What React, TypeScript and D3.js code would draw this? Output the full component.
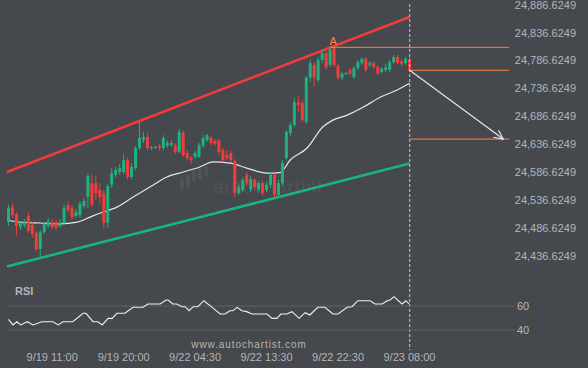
import React from "react";
import * as d3 from "d3";

// ---------- DATA ----------
// candles: [open, high, low, close]
const candles: number[][] = [
  [24496, 24527, 24489, 24521], [24523, 24529, 24504, 24509], [24511, 24514, 24471, 24489], [24487, 24498, 24482, 24495],
  [24491, 24502, 24486, 24496], [24507, 24514, 24477, 24480], [24491, 24496, 24468, 24475], [24477, 24480, 24444, 24448],
  [24448, 24482, 24432, 24478], [24478, 24496, 24475, 24493], [24489, 24504, 24486, 24498], [24496, 24502, 24484, 24487],
  [24496, 24500, 24482, 24486], [24489, 24502, 24486, 24496], [24495, 24529, 24491, 24521], [24527, 24534, 24512, 24518],
  [24521, 24527, 24500, 24505], [24507, 24520, 24503, 24514], [24509, 24534, 24503, 24529], [24525, 24539, 24520, 24534],
  [24541, 24584, 24521, 24579], [24566, 24581, 24523, 24527], [24566, 24579, 24536, 24548], [24554, 24566, 24527, 24541],
  [24548, 24554, 24486, 24495], [24495, 24564, 24486, 24561], [24563, 24593, 24557, 24584], [24581, 24595, 24577, 24590],
  [24586, 24600, 24581, 24593], [24586, 24618, 24582, 24607], [24607, 24613, 24572, 24577], [24577, 24602, 24573, 24595],
  [24593, 24633, 24590, 24629], [24629, 24676, 24625, 24647], [24643, 24658, 24638, 24649], [24649, 24656, 24624, 24629],
  [24629, 24633, 24625, 24631], [24630, 24633, 24627, 24631], [24633, 24636, 24624, 24629], [24629, 24652, 24625, 24647],
  [24633, 24643, 24629, 24638], [24634, 24643, 24631, 24638], [24634, 24638, 24618, 24622], [24622, 24663, 24620, 24658],
  [24656, 24661, 24613, 24616], [24620, 24625, 24607, 24611], [24611, 24615, 24600, 24607], [24613, 24624, 24609, 24620],
  [24613, 24638, 24611, 24634], [24633, 24652, 24629, 24647], [24643, 24654, 24640, 24652], [24647, 24651, 24634, 24638],
  [24642, 24645, 24633, 24636], [24642, 24645, 24616, 24622], [24625, 24629, 24604, 24607], [24616, 24625, 24607, 24611],
  [24620, 24625, 24604, 24607], [24606, 24609, 24541, 24548], [24548, 24564, 24545, 24559], [24554, 24577, 24550, 24572],
  [24581, 24586, 24561, 24566], [24554, 24579, 24550, 24573], [24572, 24575, 24554, 24559], [24554, 24570, 24550, 24566],
  [24566, 24570, 24543, 24548], [24554, 24568, 24550, 24563], [24563, 24586, 24557, 24581], [24581, 24584, 24541, 24545],
  [24545, 24572, 24539, 24566], [24566, 24607, 24561, 24602], [24611, 24661, 24607, 24658], [24656, 24675, 24650, 24670],
  [24670, 24719, 24667, 24711], [24711, 24722, 24694, 24706], [24710, 24715, 24676, 24679], [24676, 24758, 24672, 24755],
  [24755, 24787, 24747, 24781], [24778, 24783, 24740, 24755], [24751, 24792, 24747, 24787], [24787, 24805, 24781, 24799],
  [24799, 24805, 24769, 24774], [24778, 24810, 24774, 24805], [24809, 24810, 24774, 24778], [24776, 24780, 24751, 24755],
  [24755, 24765, 24751, 24762], [24762, 24765, 24760, 24763], [24769, 24772, 24758, 24762], [24756, 24776, 24753, 24772],
  [24772, 24787, 24769, 24783], [24781, 24792, 24778, 24789], [24789, 24792, 24765, 24769], [24778, 24785, 24774, 24781],
  [24781, 24785, 24771, 24774], [24774, 24778, 24760, 24763], [24765, 24774, 24762, 24771], [24769, 24780, 24765, 24774],
  [24769, 24787, 24765, 24783], [24783, 24796, 24780, 24792], [24792, 24796, 24778, 24781], [24785, 24788, 24776, 24780],
  [24781, 24792, 24778, 24789], [24787, 24792, 24765, 24768],
];

const maIdx = [0, 2.9, 7.9, 13, 17.3, 20.5, 23, 27.3, 31.4, 35.6, 39.9, 44, 48.2, 51.5, 55.8, 60, 65.1, 68.4, 70.9, 75.2, 79.2, 81.7, 85.3, 89.3, 93.6, 97.9, 101];
const maVal = [24499, 24496, 24494.5, 24493, 24496, 24505, 24512, 24523, 24541, 24559, 24577, 24586, 24595, 24604, 24602, 24593, 24584, 24585, 24607, 24629, 24667, 24679, 24688, 24702, 24720, 24733, 24745];

const rsiIdx = [0, 1.1, 2.1, 3.1, 4.7, 6.2, 8.4, 11.2, 12.5, 13.7, 16.2, 18.8, 19.5, 21.3, 22.5, 23.6, 25.1, 26.1, 27.3, 29.3, 31.4, 33.9, 35.1, 38.2, 39.7, 40.2, 41.4, 42.4, 43.7, 44.5, 45.5, 46.5, 47.7, 49.2, 51.3, 53.3, 54.5, 55.8, 56.5, 57.6, 58.8, 60, 61.3, 65.1, 66.4, 67.6, 68.6, 70.1, 71.4, 73.2, 74.7, 75.9, 77.9, 79.7, 81.7, 83, 85.3, 86.5, 88, 91.1, 92.3, 94.1, 95.4, 96.1, 97.1, 99.1, 100.1, 100.9];
const rsiVal = [48.9, 44.2, 46.9, 44.2, 46.9, 44.2, 46.9, 46.9, 44.2, 46.9, 46.9, 53.9, 53.9, 46.9, 46.9, 44.2, 49.7, 49.7, 53.9, 53.9, 58.9, 58.9, 61.7, 61.7, 65, 65, 61.7, 61.7, 59.4, 59.4, 56.1, 59.4, 59.4, 64.4, 58.9, 53.3, 53.3, 56.1, 56.1, 58.9, 56.1, 55.3, 53.3, 53.3, 49.7, 49.7, 53.3, 53.3, 55.3, 49.7, 54.4, 52.5, 58.9, 58.9, 53.3, 53.3, 58.9, 59.4, 64.4, 64.4, 61.7, 61.7, 64.4, 65, 67.8, 61.7, 64.4, 61.7];

const upperChannel = [{ i: -0.4, p: 24586 }, { i: 101, p: 24864 }];
const lowerChannel = [{ i: -0.4, p: 24416.5 }, { i: 101, p: 24601 }];

const priceTicks = [24436.6249, 24486.6249, 24536.6249, 24586.6249, 24636.6249, 24686.6249, 24736.6249, 24786.6249, 24836.6249, 24886.6249];
const rsiTicks = [40, 60];
const timeLabels = ["9/19 11:00", "9/19 20:00", "9/22 04:30", "9/22 13:30", "9/22 22:30", "9/23 08:00"];
const timeIdx = [11, 29, 47, 65, 83, 101];

const patternHigh = 24809.5;
const patternHighIdx = 82;
const currentPrice = 24768.3;
const targetPrice = 24645;
const forecastIdx = 124.6;
const lineEndIdx = 126.1;

// ---------- STYLE ----------
const W = 588, H = 368;
const BG = "#45484c";
const TXT = "#b3b6ba";
const GREEN = "#1db27e";
const RED = "#f23d3d";
const ORANGE = "#f5874a";
const FONT = "'Liberation Sans', Arial, sans-serif";

export default function App() {
  const x = d3.scaleLinear().domain([0, 101]).range([8.5, 409.5]);
  const y = d3.scaleLinear().domain([24436.6249, 24886.6249]).range([255.3, 4.3]);
  const ry = d3.scaleLinear().domain([40, 60]).range([330, 306]);
  const fmt = d3.format(",.4f");

  const maLine = d3.line<number>().x((_, k) => x(maIdx[k])).y((v) => y(v)).curve(d3.curveMonotoneX)(maVal) || "";
  const rsiLine = d3.line<number>().x((_, k) => x(rsiIdx[k])).y((v) => ry(v))(rsiVal) || "";

  const lastX = x(candles.length - 1) + 0.2;
  const ax0 = lastX, ay0 = y(currentPrice);
  const ax1 = x(forecastIdx), ay1 = y(targetPrice);
  const ang = Math.atan2(ay1 - ay0, ax1 - ax0);
  const hl = 10, ha = 0.45;
  const head = `M${ax1 - hl * Math.cos(ang - ha)},${ay1 - hl * Math.sin(ang - ha)}L${ax1},${ay1}L${ax1 - hl * Math.cos(ang + ha)},${ay1 - hl * Math.sin(ang + ha)}`;

  const logoBars = [
    [180, 178, 12], [186, 174, 14], [192, 170, 12], [198, 168, 12], [204, 166, 10],
  ];

  return (
    <svg width={W} height={H} style={{ position: "absolute", left: 0, top: 0, background: BG }} fontFamily={FONT}>
      <rect x={0} y={0} width={W} height={H} fill={BG} />
      {/* watermark */}
      <g fill="#505357">
        {logoBars.map((b, k) => (
          <rect key={k} x={b[0]} y={b[1]} width={4} height={b[2]} rx={2} />
        ))}
        <text x={213} y={193} fontSize={19} letterSpacing={1}>autochartist</text>
      </g>

      {/* channel lines */}
      <line x1={x(upperChannel[0].i)} y1={y(upperChannel[0].p)} x2={x(upperChannel[1].i)} y2={y(upperChannel[1].p)} stroke="#f03c3c" strokeWidth={2.6} />
      <line x1={x(lowerChannel[0].i)} y1={y(lowerChannel[0].p)} x2={x(lowerChannel[1].i)} y2={y(lowerChannel[1].p)} stroke="#1ab47f" strokeWidth={2.6} />

      {/* MA */}
      <path d={maLine} fill="none" stroke="#e6e6e6" strokeWidth={1.2} />

      {/* candles */}
      {candles.map((c, k) => {
        const [o, h, l, cl] = c;
        const up = cl >= o;
        const col = up ? GREEN : RED;
        const cx = x(k);
        const top = y(Math.max(o, cl));
        const bh = Math.max(1, y(Math.min(o, cl)) - top);
        return (
          <g key={k}>
            <line x1={cx} x2={cx} y1={y(h)} y2={y(l)} stroke={col} strokeWidth={1} />
            <rect x={cx - 1.5} y={top} width={3} height={bh} fill={col} />
          </g>
        );
      })}

      {/* pattern lines */}
      <line x1={x(patternHighIdx) - 4} x2={x(lineEndIdx)} y1={y(patternHigh)} y2={y(patternHigh)} stroke={ORANGE} strokeWidth={1} />
      <line x1={lastX} x2={x(lineEndIdx)} y1={y(currentPrice)} y2={y(currentPrice)} stroke={ORANGE} strokeWidth={1} />
      <line x1={lastX} x2={x(lineEndIdx)} y1={y(targetPrice)} y2={y(targetPrice)} stroke={ORANGE} strokeWidth={1} />
      <text x={x(patternHighIdx) - 1} y={y(patternHigh) - 2} fontSize={11} fill={ORANGE} textAnchor="middle">A</text>

      {/* forecast arrow */}
      <line x1={ax0} y1={ay0} x2={ax1} y2={ay1} stroke="#e8e8e8" strokeWidth={1.2} />
      <path d={head} fill="none" stroke="#e8e8e8" strokeWidth={1.2} />

      {/* vertical dashed line */}
      <line x1={lastX} x2={lastX} y1={4} y2={350} stroke="#c9c9c9" strokeWidth={1} strokeDasharray="3,2" />

      {/* price axis */}
      {priceTicks.map((t) => (
        <text key={t} x={576} y={y(t) + 0.4} dy="0.36em" fontSize={11} fill={TXT} textAnchor="end">{fmt(t)}</text>
      ))}

      {/* RSI panel */}
      {rsiTicks.map((t) => (
        <g key={t}>
          <line x1={7} x2={515} y1={ry(t)} y2={ry(t)} stroke="#5e6266" strokeWidth={1} />
          <text x={517} y={ry(t)} dy="0.36em" fontSize={11} fill={TXT}>{t}</text>
        </g>
      ))}
      <text x={15} y={295} fontSize={11} fontWeight="bold" fill={TXT}>RSI</text>
      <path d={rsiLine} fill="none" stroke="#f0f0f0" strokeWidth={1.1} />

      {/* watermark url */}
      <text x={249} y={348} fontSize={10} fill={TXT} textAnchor="middle" letterSpacing={0.9}>www.autochartist.com</text>

      {/* time axis */}
      {timeLabels.map((t, k) => (
        <text key={t} x={x(timeIdx[k])} y={361} fontSize={11} fill={TXT} textAnchor="middle">{t}</text>
      ))}
    </svg>
  );
}
